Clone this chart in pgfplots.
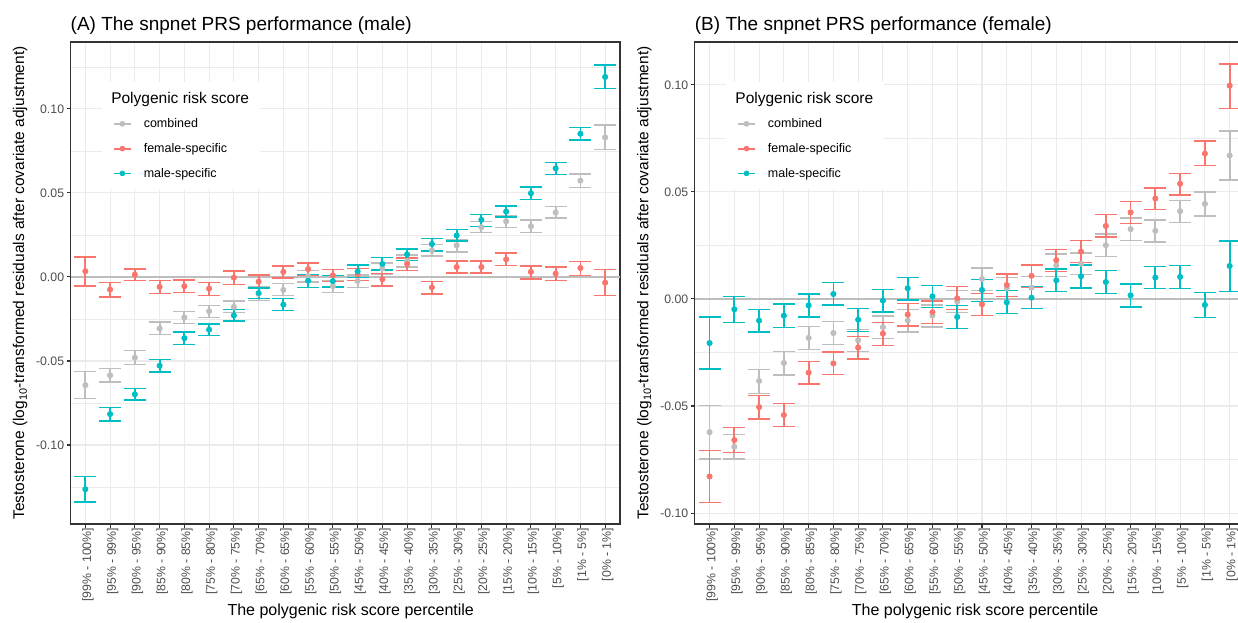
\documentclass[border=0pt]{standalone}
\usepackage{pgfplots}
\pgfplotsset{compat=1.18}
\usepackage{pgfplotstable}
\usepackage{fontspec}
\setmainfont{Liberation Sans}
\definecolor{cGray}{HTML}{BEBEBE}
\definecolor{cRed}{HTML}{F8766D}
\definecolor{cTeal}{HTML}{00BFC4}
\definecolor{gridc}{HTML}{EBEBEB}
\definecolor{borderc}{HTML}{333333}
\definecolor{tickc}{HTML}{4D4D4D}

% ---------- left panel (male) ----------
\pgfplotstableread{
x m lo hi
1 -0.0644 -0.0725 -0.0563
2 -0.0585 -0.0624 -0.0545
3 -0.0480 -0.0522 -0.0439
4 -0.0306 -0.0342 -0.0269
5 -0.0241 -0.0277 -0.0207
6 -0.0204 -0.0241 -0.0170
7 -0.0178 -0.0213 -0.0142
8 -0.0101 -0.0140 -0.0061
9 -0.0077 -0.0110 -0.0040
10 0.0005 -0.0030 0.0040
11 -0.0055 -0.0091 -0.0022
12 -0.0024 -0.0063 0.0012
13 0.0050 0.0015 0.0083
14 0.0095 0.0060 0.0130
15 0.0158 0.0124 0.0192
16 0.0188 0.0148 0.0221
17 0.0296 0.0263 0.0330
18 0.0331 0.0295 0.0365
19 0.0302 0.0266 0.0339
20 0.0383 0.0350 0.0420
21 0.0573 0.0532 0.0613
22 0.0830 0.0757 0.0905
}\LComb
\pgfplotstableread{
x m lo hi
1 0.0034 -0.0053 0.0119
2 -0.0075 -0.0119 -0.0034
3 0.0014 -0.0022 0.0047
4 -0.0059 -0.0099 -0.0022
5 -0.0055 -0.0093 -0.0018
6 -0.0069 -0.0109 -0.0032
7 -0.0004 -0.0045 0.0036
8 -0.0028 -0.0065 0.0011
9 0.0030 -0.0006 0.0065
10 0.0047 0.0012 0.0083
11 0.0010 -0.0026 0.0043
12 0.0015 -0.0020 0.0050
13 -0.0014 -0.0053 0.0022
14 0.0077 0.0040 0.0112
15 -0.0062 -0.0101 -0.0026
16 0.0059 0.0024 0.0095
17 0.0059 0.0023 0.0095
18 0.0105 0.0067 0.0142
19 0.0030 -0.0012 0.0065
20 0.0020 -0.0020 0.0059
21 0.0053 0.0010 0.0093
22 -0.0034 -0.0110 0.0043
}\LFem
\pgfplotstableread{
x m lo hi
1 -0.1263 -0.1338 -0.1186
2 -0.0816 -0.0858 -0.0777
3 -0.0698 -0.0733 -0.0664
4 -0.0528 -0.0565 -0.0492
5 -0.0364 -0.0401 -0.0328
6 -0.0314 -0.0350 -0.0279
7 -0.0229 -0.0263 -0.0194
8 -0.0096 -0.0130 -0.0065
9 -0.0165 -0.0200 -0.0130
10 -0.0022 -0.0062 0.0014
11 -0.0025 -0.0060 0.0010
12 0.0032 -0.0004 0.0071
13 0.0077 0.0041 0.0115
14 0.0134 0.0098 0.0167
15 0.0196 0.0154 0.0227
16 0.0247 0.0213 0.0283
17 0.0340 0.0300 0.0371
18 0.0389 0.0356 0.0423
19 0.0498 0.0462 0.0534
20 0.0646 0.0609 0.0682
21 0.0852 0.0814 0.0889
22 0.1190 0.1120 0.1260
}\LMale

% ---------- right panel (female) ----------
\pgfplotstableread{
x m lo hi
1 -0.0622 -0.0748 -0.0499
2 -0.0690 -0.0748 -0.0633
3 -0.0383 -0.0441 -0.0329
4 -0.0299 -0.0355 -0.0245
5 -0.0182 -0.0237 -0.0129
6 -0.0159 -0.0213 -0.0104
7 -0.0193 -0.0246 -0.0142
8 -0.0132 -0.0185 -0.0079
9 -0.0101 -0.0154 -0.0048
10 -0.0078 -0.0131 -0.0028
11 -0.0012 -0.0064 0.0040
12 0.0093 0.0039 0.0145
13 0.0050 0.0001 0.0101
14 0.0053 0.0001 0.0104
15 0.0157 0.0104 0.0210
16 0.0165 0.0115 0.0215
17 0.0251 0.0197 0.0303
18 0.0326 0.0274 0.0378
19 0.0318 0.0266 0.0369
20 0.0410 0.0358 0.0461
21 0.0444 0.0388 0.0500
22 0.0670 0.0555 0.0785
}\RComb
\pgfplotstableread{
x m lo hi
1 -0.0829 -0.0950 -0.0709
2 -0.0659 -0.0717 -0.0601
3 -0.0505 -0.0561 -0.0450
4 -0.0542 -0.0595 -0.0489
5 -0.0344 -0.0397 -0.0293
6 -0.0301 -0.0354 -0.0248
7 -0.0227 -0.0280 -0.0176
8 -0.0162 -0.0218 -0.0109
9 -0.0073 -0.0126 -0.0020
10 -0.0062 -0.0114 -0.0009
11 0.0003 -0.0048 0.0058
12 -0.0025 -0.0076 0.0026
13 0.0065 0.0012 0.0117
14 0.0108 0.0055 0.0159
15 0.0181 0.0128 0.0232
16 0.0221 0.0170 0.0273
17 0.0341 0.0289 0.0393
18 0.0404 0.0353 0.0455
19 0.0469 0.0418 0.0519
20 0.0538 0.0486 0.0587
21 0.0679 0.0622 0.0737
22 0.0996 0.0890 0.1098
}\RFem
\pgfplotstableread{
x m lo hi
1 -0.0206 -0.0327 -0.0084
2 -0.0048 -0.0109 0.0011
3 -0.0101 -0.0154 -0.0048
4 -0.0078 -0.0134 -0.0023
5 -0.0030 -0.0084 0.0023
6 0.0023 -0.0028 0.0076
7 -0.0097 -0.0151 -0.0045
8 -0.0008 -0.0061 0.0045
9 0.0050 -0.0005 0.0101
10 0.0012 -0.0040 0.0064
11 -0.0084 -0.0137 -0.0031
12 0.0042 -0.0011 0.0092
13 -0.0016 -0.0069 0.0039
14 0.0006 -0.0045 0.0058
15 0.0087 0.0034 0.0139
16 0.0106 0.0051 0.0159
17 0.0079 0.0025 0.0134
18 0.0017 -0.0037 0.0070
19 0.0100 0.0048 0.0151
20 0.0103 0.0050 0.0156
21 -0.0028 -0.0087 0.0031
22 0.0154 0.0034 0.0271
}\RMale

\newcommand{\ebar}[2]{%
  \addplot[color=#2, line width=1.8pt, only marks, mark=none, forget plot,
    error bars/.cd, y dir=both, y explicit,
    error bar style={color=#2, line width=1.8pt, solid},
    error mark options={rotate=90, color=#2, line width=1.4pt, mark size=11pt}]
    table[x=x, y=m, y error plus expr=\thisrow{hi}-\thisrow{m}, y error minus expr=\thisrow{m}-\thisrow{lo}] {#1};
}
\newcommand{\pts}[2]{%
  \addplot[only marks, mark=*, mark size=2.5pt, mark options={draw=#2, fill=#2, line width=0.6pt}, forget plot]
    table[x=x, y=m] {#1};
}

\pgfplotsset{
  panel/.style={
    scale only axis, width=549.5pt, height=482pt,
    xmin=0.4, xmax=22.6,
    xtick={1,2,3,4,5,6,7,8,9,10,11,12,13,14,15,16,17,18,19,20,21,22},
    xticklabels={{[99\% - 100\%]},{[95\% - 99\%]},{[90\% - 95\%]},{[85\% - 90\%]},{[80\% - 85\%]},{[75\% - 80\%]},{[70\% - 75\%]},{[65\% - 70\%]},{[60\% - 65\%]},{[55\% - 60\%]},{[50\% - 55\%]},{[45\% - 50\%]},{[40\% - 45\%]},{[35\% - 40\%]},{[30\% - 35\%]},{[25\% - 30\%]},{[20\% - 25\%]},{[15\% - 20\%]},{[10\% - 15\%]},{[5\% - 10\%]},{[1\% - 5\%]},{[0\% - 1\%]}},
    ytick={-0.10,-0.05,0,0.05,0.10},
    xmajorgrids=true, ymajorgrids=true, yminorgrids=true,
    major grid style={gridc, line width=1.07pt},
    minor grid style={gridc, line width=0.53pt},
    axis line style={borderc, line width=1.07pt},
    tick style={borderc, line width=1.07pt},
    major tick length=3.7pt, minor tick length=0pt,
    tick align=outside, tick pos=left,
    xticklabel style={rotate=90, anchor=east, font=\fontsize{12.3}{14}\selectfont, text=tickc, inner sep=0pt, xshift=0pt, yshift=-2.5pt},
    yticklabel style={anchor=east, font=\fontsize{12.3}{14}\selectfont, text=tickc, inner sep=0pt, xshift=-2.5pt,
      /pgf/number format/fixed, /pgf/number format/fixed zerofill, /pgf/number format/precision=2, /pgf/number format/assume math mode=true},
    every axis title/.style={at={(axis description cs:0,1)}, anchor=base west, yshift=11.3pt, inner sep=0pt, font=\fontsize{19}{22}\selectfont},
    every axis x label/.style={at={(axis description cs:0.51,0)}, anchor=base, yshift=-91pt, font=\fontsize{16}{18}\selectfont},
    every axis y label/.style={at={(axis description cs:-0.0915,0.5)}, rotate=90, anchor=center, font=\fontsize{15.5}{18}\selectfont},
    xlabel={The polygenic risk score percentile},
    ylabel={Testosterone (log\textsubscript{10}-transformed residuals after covariate adjustment)},
    legend style={anchor=north west, draw=none, fill=white, inner xsep=11pt, inner ysep=9.5pt,
      column sep=12pt, row sep=13.5pt, font=\fontsize{12.5}{14}\selectfont, nodes={inner sep=0pt}},
    legend cell align=left,
  }
}
\newcommand{\legendblock}{%
  \addlegendimage{empty legend}
  \addlegendentry{\hspace*{-32.5pt}\fontsize{15.5}{17}\selectfont\rule[-16.7pt]{0pt}{16.7pt}Polygenic risk score}
  \addlegendimage{cGray, line width=1.8pt, mark=*, mark size=2.5pt, mark options={draw=cGray, fill=cGray, line width=0.6pt}}
  \addlegendentry{\strut combined}
  \addlegendimage{cRed, line width=1.8pt, mark=*, mark size=2.5pt, mark options={draw=cRed, fill=cRed, line width=0.6pt}}
  \addlegendentry{\strut female-specific}
  \addlegendimage{cTeal, line width=1.8pt, mark=*, mark size=2.5pt, mark options={draw=cTeal, fill=cTeal, line width=0.6pt}}
  \addlegendentry{\strut male-specific}
}

\begin{document}
\begin{tikzpicture}
\useasboundingbox (0,0) rectangle (1238pt,623pt);
\begin{axis}[panel, at={(70.5pt,99pt)}, anchor=south west,
  ymin=-0.147, ymax=0.1398,
  minor ytick={-0.125,-0.075,-0.025,0.025,0.075,0.125},
  title={(A) The snpnet PRS performance (male)},
  legend style={at={(axis description cs:0.0568,0.9165)}}]
  \legendblock
  \addplot[cGray, line width=1.4pt, forget plot] coordinates {(0.4,0) (22.6,0)};
  \ebar{\LComb}{cGray}
  \ebar{\LFem}{cRed}
  \ebar{\LMale}{cTeal}
  \pts{\LComb}{cGray}
  \pts{\LFem}{cRed}
  \pts{\LMale}{cTeal}
\end{axis}
\begin{axis}[panel, at={(694.7pt,99pt)}, anchor=south west, width=549.8pt,
  ymin=-0.1051, ymax=0.1200,
  minor ytick={-0.075,-0.025,0.025,0.075},
  title={(B) The snpnet PRS performance (female)},
  legend style={at={(axis description cs:0.0567,0.9165)}}]
  \legendblock
  \addplot[cGray, line width=1.4pt, forget plot] coordinates {(0.4,0) (22.6,0)};
  \ebar{\RComb}{cGray}
  \ebar{\RFem}{cRed}
  \ebar{\RMale}{cTeal}
  \pts{\RComb}{cGray}
  \pts{\RFem}{cRed}
  \pts{\RMale}{cTeal}
\end{axis}
\end{tikzpicture}
\end{document}
